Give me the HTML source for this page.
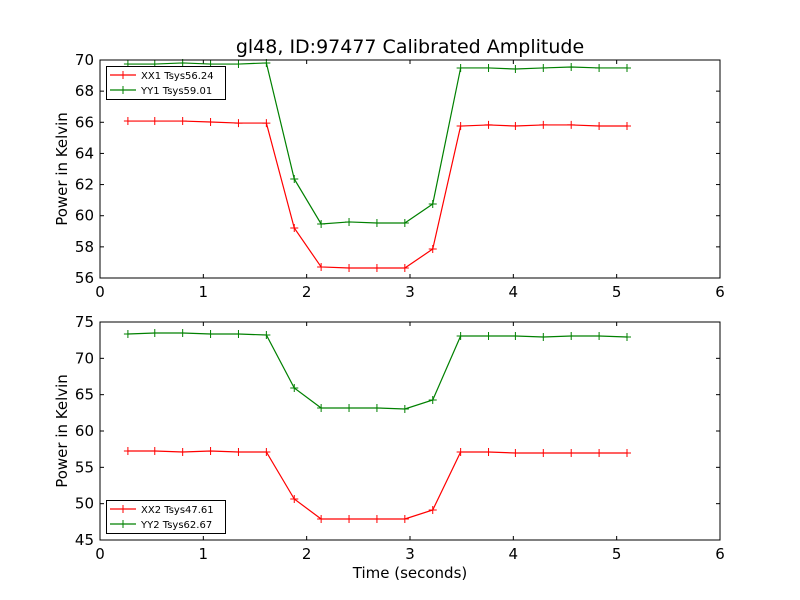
<!DOCTYPE html>
<html><head><meta charset="utf-8"><style>
body{margin:0;background:#fff;}
svg{display:block;font-family:"DejaVu Sans","Liberation Sans",sans-serif;}
</style></head><body>
<svg id="chart" width="800" height="600" viewBox="0 0 800 600">
<rect width="800" height="600" fill="#fff"/>
<text x="410" y="53" font-size="19" text-anchor="middle">gl48, ID:97477 Calibrated Amplitude</text>
<text x="410" y="578" font-size="15" text-anchor="middle">Time (seconds)</text>
</svg>
<script>
const times=[0.27,0.53,0.8,1.07,1.34,1.61,1.88,2.14,2.41,2.68,2.95,3.22,3.49,3.76,4.02,4.29,4.56,4.83,5.1];
const xx1=[66.08,66.08,66.08,66.02,65.95,65.95,59.21,56.71,56.64,56.64,56.64,57.86,65.76,65.83,65.76,65.83,65.83,65.76,65.76];
const yy1=[69.74,69.74,69.81,69.74,69.74,69.81,62.36,59.47,59.6,59.53,59.53,60.75,69.49,69.49,69.42,69.49,69.55,69.49,69.49];
const xx2=[57.25,57.25,57.11,57.25,57.11,57.11,50.64,47.89,47.89,47.89,47.89,49.13,57.11,57.11,56.97,56.97,56.97,56.97,56.97];
const yy2=[73.35,73.49,73.49,73.35,73.35,73.21,65.92,63.17,63.17,63.17,63.03,64.27,73.07,73.07,73.07,72.94,73.07,73.07,72.94];
const xTicks=[0,1,2,3,4,5,6];
const topTicks=[56,58,60,62,64,66,68,70];
const botTicks=[45,50,55,60,65,70,75];
const legendTop=["XX1 Tsys56.24","YY1 Tsys59.01"];
const legendBot=["XX2 Tsys47.61","YY2 Tsys62.67"];
const svg=document.getElementById('chart');
const NS="http://www.w3.org/2000/svg";
function mk(tag,attrs,parent){const e=document.createElementNS(NS,tag);for(const k in attrs)e.setAttribute(k,attrs[k]);(parent||svg).appendChild(e);return e;}
const L=100,R=720;
const xs=v=>L+(v-0)/(6-0)*(R-L);
function panel(name,top,bot,ymin,ymax,yticks,series,legend,legY){
  const g=mk('g',{});
  
  
  const ys=v=>bot-(v-ymin)/(ymax-ymin)*(bot-top);
  xTicks.forEach(t=>{
    const x=xs(t);
    mk('line',{x1:x,x2:x,y1:bot,y2:bot-4,stroke:'#000'},g);
    mk('line',{x1:x,x2:x,y1:top,y2:top+4,stroke:'#000'},g);
    const tx=mk('text',{x:x,y:bot+19,'font-size':15,'text-anchor':'middle'},g);
    tx.textContent=t;
    
    
  });
  yticks.forEach(t=>{
    const y=ys(t);
    mk('line',{x1:L,x2:L+4,y1:y,y2:y,stroke:'#000'},g);
    mk('line',{x1:R,x2:R-4,y1:y,y2:y,stroke:'#000'},g);
    const tx=mk('text',{x:L-6,y:y+5,'font-size':15,'text-anchor':'end'},g);
    tx.textContent=t;
    
    
  });
  const yt=mk('text',{x:0,y:0,'font-size':15,'text-anchor':'middle',transform:`translate(67,${(top+bot)/2}) rotate(-90)`},g);
  yt.textContent='Power in Kelvin';
  
  
  series.forEach((s,si)=>{
    const pts=times.map((t,i)=>xs(t)+','+ys(s.vals[i])).join(' ');
    const pl=mk('polyline',{points:pts,fill:'none',stroke:s.color,'stroke-width':1.2},g);
    
    
    times.forEach((t,i)=>{
      const x=xs(t),y=ys(s.vals[i]);
      const p=mk('path',{d:`M${x-4},${y}H${x+4}M${x},${y-4}V${y+4}`,stroke:s.color,'stroke-width':1},g);
      
      
    });
  });
  const rect=mk('rect',{x:L,y:top,width:R-L,height:bot-top,fill:'none',stroke:'#000'},g);
  
  
  const lg=mk('g',{},g);
  
  
  mk('rect',{x:106.5,y:legY+0.5,width:119,height:33,fill:'#fff',stroke:'#000'},lg);
  series.forEach((s,si)=>{
    const y=legY+9+si*15;
    mk('line',{x1:110,x2:136,y1:y,y2:y,stroke:s.color,'stroke-width':1.2},lg);
    mk('path',{d:`M119,${y}H127M123,${y-4}V${y+4}`,stroke:s.color},lg);
    const tx=mk('text',{x:141,y:y+4,'font-size':10},lg);
    tx.textContent=legend[si];
    
    
  });
}
panel('top',60,278,56,70,topTicks,[{name:'xx1',vals:xx1,color:'#ff0000'},{name:'yy1',vals:yy1,color:'#008000'}],legendTop,66);
panel('bottom',322,540,45,75,botTicks,[{name:'xx2',vals:xx2,color:'#ff0000'},{name:'yy2',vals:yy2,color:'#008000'}],legendBot,500);
</script>
</body></html>
